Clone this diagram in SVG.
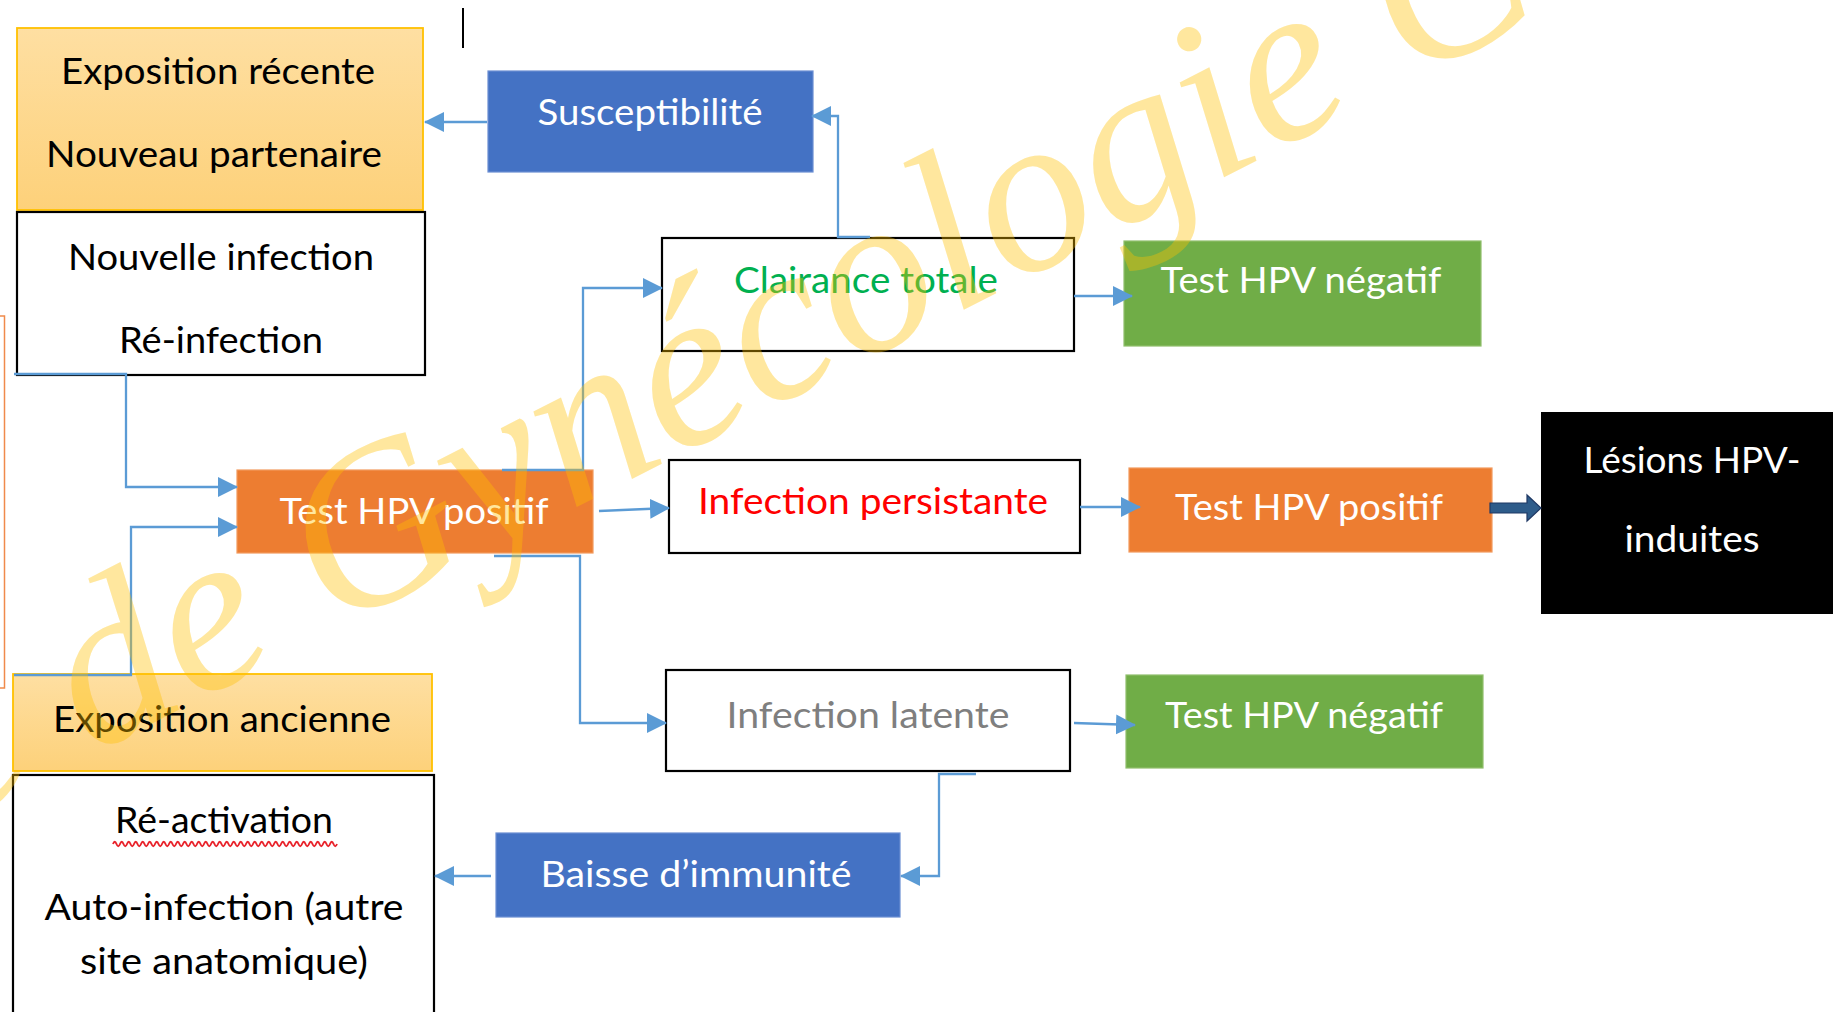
<svg xmlns="http://www.w3.org/2000/svg" width="1833" height="1012" viewBox="0 0 1833 1012">
<style>
  .t{font-family:Lato,"Open Sans","Liberation Sans",sans-serif;font-size:36px;text-anchor:middle}
  .blk{fill:#000}
  .wht{fill:#fff}
  .wbox{fill:#fff;stroke:#000;stroke-width:2.2}
  .expo{fill:url(#gOr);stroke:#FFC000;stroke-width:1.8}
  .blue{fill:#4472C4;stroke:#6A8ED3;stroke-width:1.2}
  .green{fill:#70AD47;stroke:#8FBF6C;stroke-width:1.2}
  .orange{fill:#ED7D31;stroke:#F29A5E;stroke-width:1.2}
  .con{fill:none;stroke:#5B9BD5;stroke-width:2.3;marker-end:url(#ah)}
  .wm{font-family:"Liberation Serif","Times New Roman",serif;font-style:italic;font-size:228px;fill:#FFC000;fill-opacity:0.38}
</style>
<defs>
  <linearGradient id="gOr" x1="0" y1="0" x2="0" y2="1">
    <stop offset="0" stop-color="#FEDFA2"/>
    <stop offset="1" stop-color="#FDD17A"/>
  </linearGradient>
  <marker id="ah" markerUnits="userSpaceOnUse" markerWidth="20" markerHeight="22" viewBox="0 0 20 22" refX="19" refY="11" orient="auto">
    <path d="M0,1 L20,11 L0,21 z" fill="#5B9BD5"/>
  </marker>
</defs>
<rect width="1833" height="1012" fill="#fff"/>

<!-- stray marks -->
<line x1="463" y1="8" x2="463" y2="48" stroke="#000" stroke-width="2"/>
<path d="M0,316 H4.5 V688 H0" fill="none" stroke="#F08A4B" stroke-width="1.5"/>

<g id="expositionRecente">
  <rect class="expo" x="17" y="28" width="406" height="182"/>
  <text class="t blk" x="218" y="84" textLength="314" lengthAdjust="spacingAndGlyphs">Exposition récente</text>
  <text class="t blk" x="214" y="167" textLength="336" lengthAdjust="spacingAndGlyphs">Nouveau partenaire</text>
</g>
<g id="nouvelleInfection">
  <rect class="wbox" x="17" y="212" width="408" height="163"/>
  <text class="t blk" x="221" y="270" textLength="306" lengthAdjust="spacingAndGlyphs">Nouvelle infection</text>
  <text class="t blk" x="221" y="353" textLength="204" lengthAdjust="spacingAndGlyphs">Ré-infection</text>
</g>
<g id="susceptibilite">
  <rect class="blue" x="488" y="71" width="325" height="101"/>
  <text class="t wht" x="650" y="125" textLength="225" lengthAdjust="spacingAndGlyphs">Susceptibilité</text>
</g>
<g id="clairanceTotale">
  <rect class="wbox" x="662" y="238" width="412" height="113"/>
  <text class="t" fill="#00B050" x="866" y="293" textLength="264" lengthAdjust="spacingAndGlyphs">Clairance totale</text>
</g>
<g id="testNegatif1">
  <rect class="green" x="1124" y="241" width="357" height="105"/>
  <text class="t wht" x="1301" y="293" textLength="281" lengthAdjust="spacingAndGlyphs">Test HPV négatif</text>
</g>
<g id="testPositif1">
  <rect class="orange" x="237" y="470" width="356" height="83"/>
  <text class="t wht" x="414" y="524" textLength="269" lengthAdjust="spacingAndGlyphs">Test HPV positif</text>
</g>
<g id="infectionPersistante">
  <rect class="wbox" x="669" y="460" width="411" height="93"/>
  <text class="t" fill="#FF0000" x="873" y="514" textLength="350" lengthAdjust="spacingAndGlyphs">Infection persistante</text>
</g>
<g id="testPositif2">
  <rect class="orange" x="1129" y="468" width="363" height="84"/>
  <text class="t wht" x="1309" y="520" textLength="268" lengthAdjust="spacingAndGlyphs">Test HPV positif</text>
</g>
<g id="lesions">
  <rect x="1541" y="412" width="300" height="202" fill="#000"/>
  <text class="t wht" x="1692" y="473" textLength="217" lengthAdjust="spacingAndGlyphs">Lésions HPV-</text>
  <text class="t wht" x="1692" y="552" textLength="135" lengthAdjust="spacingAndGlyphs">induites</text>
</g>
<g id="infectionLatente">
  <rect class="wbox" x="666" y="670" width="404" height="101"/>
  <text class="t" fill="#7F7F7F" x="868" y="728" textLength="283" lengthAdjust="spacingAndGlyphs">Infection latente</text>
</g>
<g id="testNegatif2">
  <rect class="green" x="1126" y="675" width="357" height="93"/>
  <text class="t wht" x="1304" y="728" textLength="278" lengthAdjust="spacingAndGlyphs">Test HPV négatif</text>
</g>
<g id="baisseImmunite">
  <rect class="blue" x="496" y="833" width="404" height="84"/>
  <text class="t wht" x="696" y="887" textLength="311" lengthAdjust="spacingAndGlyphs">Baisse d’immunité</text>
</g>
<g id="expositionAncienne">
  <rect class="expo" x="13" y="674" width="419" height="97"/>
  <text class="t blk" x="222" y="732" textLength="338" lengthAdjust="spacingAndGlyphs">Exposition ancienne</text>
</g>
<g id="reactivation">
  <rect class="wbox" x="13" y="775" width="421" height="260"/>
  <text class="t blk" x="224" y="833" textLength="218" lengthAdjust="spacingAndGlyphs">Ré-activation</text>
  <path d="M113,844 q1.75,-4.5 3.5,0 t3.5,0 t3.5,0 t3.5,0 t3.5,0 t3.5,0 t3.5,0 t3.5,0 t3.5,0 t3.5,0 t3.5,0 t3.5,0 t3.5,0 t3.5,0 t3.5,0 t3.5,0 t3.5,0 t3.5,0 t3.5,0 t3.5,0 t3.5,0 t3.5,0 t3.5,0 t3.5,0 t3.5,0 t3.5,0 t3.5,0 t3.5,0 t3.5,0 t3.5,0 t3.5,0 t3.5,0 t3.5,0 t3.5,0 t3.5,0 t3.5,0 t3.5,0 t3.5,0 t3.5,0 t3.5,0 t3.5,0 t3.5,0 t3.5,0 t3.5,0 t3.5,0 t3.5,0 t3.5,0 t3.5,0 t3.5,0 t3.5,0 t3.5,0 t3.5,0 t3.5,0 t3.5,0 t3.5,0 t3.5,0 t3.5,0 t3.5,0 t3.5,0 t3.5,0 t3.5,0 t3.5,0 t3.5,0 t3.5,0" fill="none" stroke="#E8222A" stroke-width="1.9"/>
  <text class="t blk" x="224" y="920" textLength="359" lengthAdjust="spacingAndGlyphs">Auto-infection (autre</text>
  <text class="t blk" x="224" y="974" textLength="288" lengthAdjust="spacingAndGlyphs">site anatomique)</text>
</g>

<g id="connectors">
  <path class="con" d="M487,122 H425"/>
  <path class="con" d="M870,237 H838 V116 H812"/>
  <path class="con" d="M14,374 H126 V487 H237"/>
  <path class="con" d="M14,675 H131 V527 H237"/>
  <path class="con" d="M502,470 H583 V288 H662"/>
  <path class="con" d="M599,511 L669,508"/>
  <path class="con" d="M494,556 H580 V723 H666"/>
  <path class="con" d="M1074,296 H1132"/>
  <path class="con" d="M1080,507 H1140"/>
  <path class="con" d="M1074,723 L1135,725"/>
  <path class="con" d="M976,774 H939 V876 H901"/>
  <path class="con" d="M491,876 H435"/>
  <polygon points="1490,503 1527,503 1527,495 1541,508 1527,521 1527,513 1490,513" fill="#2E5C8A" stroke="#1F3864" stroke-width="1.2"/>
</g>

<g id="watermark">
  <text class="wm" transform="translate(90,755) rotate(-27)" x="-158" y="0">e de Gynécologie C</text>
</g>
</svg>
